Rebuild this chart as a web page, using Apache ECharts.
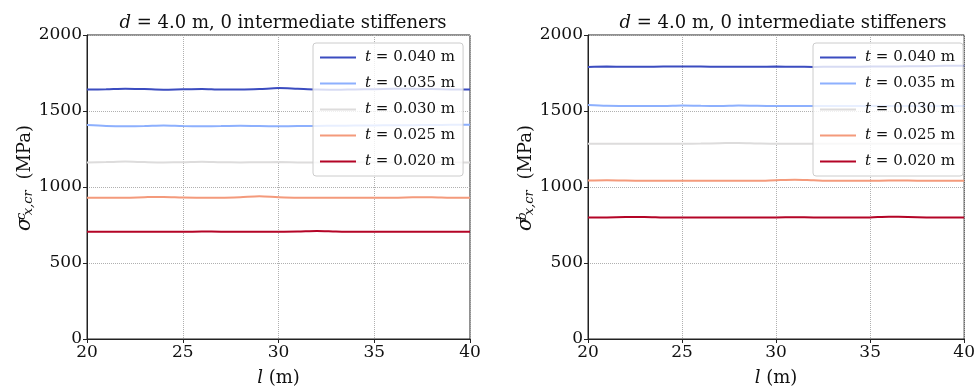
<!DOCTYPE html>
<html>
<head>
<meta charset="utf-8">
<script src="https://cdn.jsdelivr.net/npm/echarts@6/dist/echarts.min.js"></script>
<style>
  html, body { margin: 0; padding: 0; background: #fff; }
  #chart { width: 978px; height: 392px; }
</style>
</head>
<body>
<div id="chart"></div>
<script>
  // span l (m)
  var lengths = [20, 21, 22, 23, 24, 25, 26, 27, 28, 29, 30, 31, 32, 33, 34, 35, 36, 37, 38, 39, 40]
  var seriesNames = ["t = 0.040 m", "t = 0.035 m", "t = 0.030 m", "t = 0.025 m", "t = 0.020 m"]
  var colors = ["#3b4cc0", "#8db0fe", "#dddcdc", "#f49a7b", "#b40426"]
  var yTicks = [0, 500, 1000, 1500, 2000]
  var xTicks = [20, 25, 30, 35, 40]

  // left panel: compression sigma^c
  var comp040 = [1641, 1643, 1647, 1644, 1640, 1643, 1645, 1641, 1641, 1644, 1651, 1646, 1641, 1640, 1642, 1643, 1646, 1647, 1645, 1642, 1641]
  var comp035 = [1408, 1402, 1400, 1401, 1404, 1401, 1400, 1401, 1403, 1401, 1400, 1401, 1402, 1403, 1404, 1405, 1406, 1407, 1408, 1409, 1410]
  var comp030 = [1162, 1164, 1167, 1164, 1162, 1163, 1166, 1163, 1162, 1163, 1164, 1162, 1161, 1162, 1163, 1162, 1161, 1162, 1163, 1162, 1162]
  var comp025 = [930, 930, 930, 933, 935, 931, 930, 930, 933, 939, 933, 930, 930, 930, 930, 930, 930, 932, 933, 930, 930]
  var comp020 = [705, 705, 706, 706, 706, 705, 707, 706, 705, 706, 706, 707, 711, 707, 705, 705, 705, 706, 706, 705, 705]

  // right panel: bending sigma^b
  var bend040 = [1790, 1792, 1791, 1791, 1792, 1793, 1792, 1791, 1791, 1791, 1792, 1791, 1790, 1791, 1791, 1792, 1793, 1794, 1795, 1797, 1798]
  var bend035 = [1540, 1534, 1533, 1533, 1533, 1536, 1534, 1533, 1536, 1534, 1533, 1533, 1533, 1533, 1533, 1534, 1533, 1533, 1534, 1533, 1533]
  var bend030 = [1285, 1285, 1285, 1285, 1285, 1285, 1286, 1288, 1290, 1287, 1285, 1285, 1285, 1285, 1285, 1285, 1285, 1285, 1285, 1285, 1285]
  var bend025 = [1042, 1044, 1042, 1041, 1041, 1041, 1041, 1041, 1041, 1041, 1045, 1048, 1044, 1041, 1041, 1041, 1042, 1042, 1041, 1041, 1041]
  var bend020 = [799, 800, 802, 803, 800, 799, 799, 799, 799, 799, 800, 801, 800, 799, 799, 800, 804, 803, 800, 799, 799]

  var compData = [comp040, comp035, comp030, comp025, comp020]
  var bendData = [bend040, bend035, bend030, bend025, bend020]

  var font = "DejaVu Serif"
  var grids = [
    { left: 87, right: 508, top: 35, bottom: 49 },
    { left: 588, right: 9, top: 35, bottom: 49 }
  ]

  function pairs(ys) {
    return lengths.map(function (x, i) { return [x, ys[i]] })
  }

  function makeX(idx) {
    return {
      type: "value", gridIndex: idx, min: 20, max: 40, interval: 5,
      name: "{i|l} (m)", nameLocation: "middle", nameGap: 30,
      nameTextStyle: { fontFamily: font, fontSize: 18, color: "#111", rich: { i: { fontFamily: font, fontStyle: "italic", fontSize: 18 } } },
      axisLine: { show: true, lineStyle: { color: "#222", width: 1 } },
      axisTick: { show: true, length: 4, lineStyle: { color: "#222" } },
      axisLabel: { fontFamily: font, fontSize: 17, color: "#111", margin: 5 },
      splitLine: { show: true, lineStyle: { color: "#b0b0b0", type: "dotted", width: 1 } }
    }
  }

  function makeY(idx, sup) {
    return {
      type: "value", gridIndex: idx, min: 0, max: 2000, interval: 500,
      name: "{s|σ}{p|" + sup + "}{b|x,cr} (MPa)", nameLocation: "middle", nameGap: 50, nameRotate: 90,
      nameTextStyle: {
        fontFamily: font, fontSize: 18, color: "#111", padding: [0, 0, 0, 18],
        rich: {
          s: { fontFamily: font, fontStyle: "italic", fontSize: 20 },
          p: { fontFamily: font, fontStyle: "italic", fontSize: 13, width: 0.01, verticalAlign: "top", padding: [0, 0, 0, 1] },
          b: { fontFamily: font, fontStyle: "italic", fontSize: 13, verticalAlign: "bottom", padding: [0, 5, 0, 1] }
        }
      },
      axisLine: { show: true, lineStyle: { color: "#222", width: 1 } },
      axisTick: { show: true, length: 4, lineStyle: { color: "#222" } },
      axisLabel: { fontFamily: font, fontSize: 17, color: "#111", margin: 5, formatter: function (v) { return String(v) } },
      splitLine: { show: true, lineStyle: { color: "#b0b0b0", type: "dotted", width: 1 } }
    }
  }

  function makeLegend(left) {
    return {
      orient: "vertical", left: left, top: 43,
      data: seriesNames.map(function (n) { return { name: n, icon: "rect" } }),
      itemWidth: 36, itemHeight: 2, itemGap: 11,
      padding: [7, 8, 7, 7],
      backgroundColor: "rgba(255,255,255,0.8)",
      borderColor: "#cccccc", borderWidth: 1, borderRadius: 3,
      selectedMode: false,
      formatter: function (n) { return "{i|t}" + n.slice(1) },
      textStyle: { fontFamily: font, fontSize: 15, color: "#111", padding: [0, 0, 0, 4], rich: { i: { fontFamily: font, fontStyle: "italic", fontSize: 15 } } }
    }
  }

  var series = []
  ;[compData, bendData].forEach(function (set, g) {
    set.forEach(function (ys, k) {
      series.push({
        type: "line", name: seriesNames[k], xAxisIndex: g, yAxisIndex: g,
        data: pairs(ys), showSymbol: false, smooth: 0.3,
        lineStyle: { color: colors[k], width: 2 }, itemStyle: { color: colors[k] },
        z: 2
      })
    })
  })

  var titleText = "{i|d} = 4.0 m, 0 intermediate stiffeners"
  var titleStyle = { fontFamily: font, fontSize: 18, fontWeight: "normal", color: "#111", rich: { i: { fontFamily: font, fontStyle: "italic", fontSize: 18 } } }

  var chart = echarts.init(document.getElementById("chart"), null, { renderer: "canvas" })
  chart.setOption({
    animation: false,
    backgroundColor: "#fff",
    title: [
      { text: titleText, left: 278, top: 9, textAlign: "center", textStyle: titleStyle },
      { text: titleText, left: 778, top: 9, textAlign: "center", textStyle: titleStyle }
    ],
    legend: [makeLegend(313), makeLegend(813)],
    grid: grids.map(function (g) { return Object.assign({ show: true, borderColor: "#222", borderWidth: 1, backgroundColor: "transparent" }, g) }),
    xAxis: [makeX(0), makeX(1)],
    yAxis: [makeY(0, "c"), makeY(1, "b")],
    series: series
  })
</script>
</body>
</html>
